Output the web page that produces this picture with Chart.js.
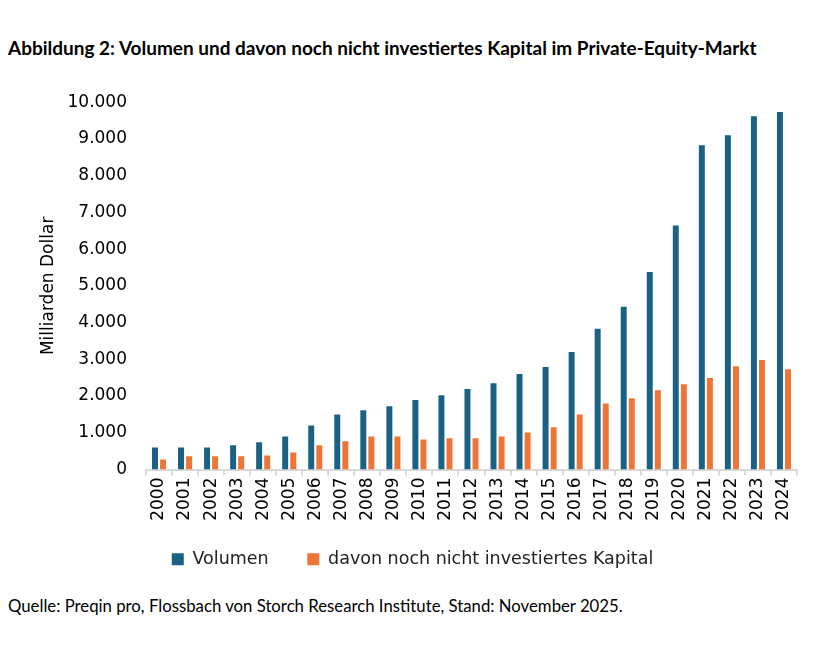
<!DOCTYPE html>
<html>
<head>
<meta charset="utf-8">
<script src="https://cdn.jsdelivr.net/npm/chart.js@4.4.1/dist/chart.umd.min.js"></script>
<style>
  html, body { margin: 0; padding: 0; background: #fff; }
  body { width: 814px; height: 669px; position: relative; overflow: hidden; }
  #title { position: absolute; left: 8px; top: 36px; font-family: Lato, "Open Sans", sans-serif; font-weight: bold; font-size: 17px; color: #000; white-space: nowrap; }
  #source { position: absolute; left: 8px; top: 595px; font-family: Lato, "Open Sans", sans-serif; font-size: 15px; color: #000; white-space: nowrap; }
  #wrap { position: absolute; left: 0; top: 81px; width: 814px; height: 499px; }
</style>
</head>
<body>
<div id="title">Abbildung 2: Volumen und davon noch nicht investiertes Kapital im Private-Equity-Markt</div>
<div id="wrap"><canvas id="c" width="814" height="499"></canvas></div>
<div id="source">Quelle: Preqin pro, Flossbach von Storch Research Institute, Stand: November 2025.</div>
<script>
const years = ["2000","2001","2002","2003","2004","2005","2006","2007","2008","2009","2010","2011","2012","2013","2014","2015","2016","2017","2018","2019","2020","2021","2022","2023","2024"];
const volumen = [600, 600, 600, 660, 740, 900, 1200, 1500, 1610, 1720, 1890, 2020, 2190, 2350, 2600, 2790, 3200, 3830, 4430, 5380, 6640, 8830, 9100, 9620, 9730];
const nichtInvestiert = [270, 360, 360, 360, 380, 460, 660, 770, 900, 900, 820, 850, 850, 900, 1010, 1150, 1500, 1800, 1940, 2160, 2320, 2490, 2810, 2980, 2730];
const seriesNames = ["Volumen", "davon noch nicht investiertes Kapital"];
const yTitle = "Milliarden Dollar";

// fit HTML texts to reference widths
function fit(id, target) {
  const el = document.getElementById(id);
  const w = el.getBoundingClientRect().width;
  const fs = parseFloat(getComputedStyle(el).fontSize);
  el.style.fontSize = (fs * target / w) + "px";
}
fit("title", 749);
fit("source", 615);

const fmt = v => v === 0 ? "0" : v.toLocaleString("de-DE");
const axisColor = "#d9d9d9";
const txt = "#000";

new Chart(document.getElementById("c"), {
  type: "bar",
  data: {
    labels: years,
    datasets: [
      { label: seriesNames[0], data: volumen, backgroundColor: "#1a6184", categoryPercentage: 0.62, barPercentage: 0.74 },
      { label: seriesNames[1], data: nichtInvestiert, backgroundColor: "#ed7535", categoryPercentage: 0.62, barPercentage: 0.74 }
    ]
  },
  options: {
    responsive: false,
    animation: false,
    devicePixelRatio: 1,
    layout: { padding: { top: 4, right: 17, bottom: 2, left: 28 } },
    plugins: {
      tooltip: { enabled: false },
      legend: {
        position: "bottom",
        labels: {
          color: "#222",
          font: { family: "DejaVu Sans", size: 17.5 },
          boxWidth: 12, boxHeight: 12,
          padding: 10,
          generateLabels: chart => {
            const items = Chart.defaults.plugins.legend.labels.generateLabels(chart);
            if (items[0]) items[0].text = items[0].text + "\u2003\u00a0\u00a0";
            return items;
          }
        }
      }
    },
    scales: {
      x: {
        grid: { display: true, drawOnChartArea: false, drawTicks: true, tickLength: 6, color: axisColor, lineWidth: 2, offset: true },
        border: { display: true, color: axisColor, width: 2 },
        ticks: { color: txt, font: { family: "DejaVu Sans", size: 17 }, maxRotation: 90, minRotation: 90, autoSkip: false, padding: 2 },
        afterFit: s => { s.height = 71; }
      },
      y: {
        min: 0, max: 10000,
        grid: { display: false },
        border: { display: false },
        ticks: { stepSize: 1000, color: txt, font: { family: "DejaVu Sans", size: 17 }, padding: 11, callback: v => fmt(v) },
        title: { display: true, text: yTitle, color: txt, font: { family: "DejaVu Sans", size: 17 }, padding: { top: 10, bottom: 0 } },
        afterFit: s => { s.width = 146 - 28; }
      }
    }
  }
});
</script>
</body>
</html>
